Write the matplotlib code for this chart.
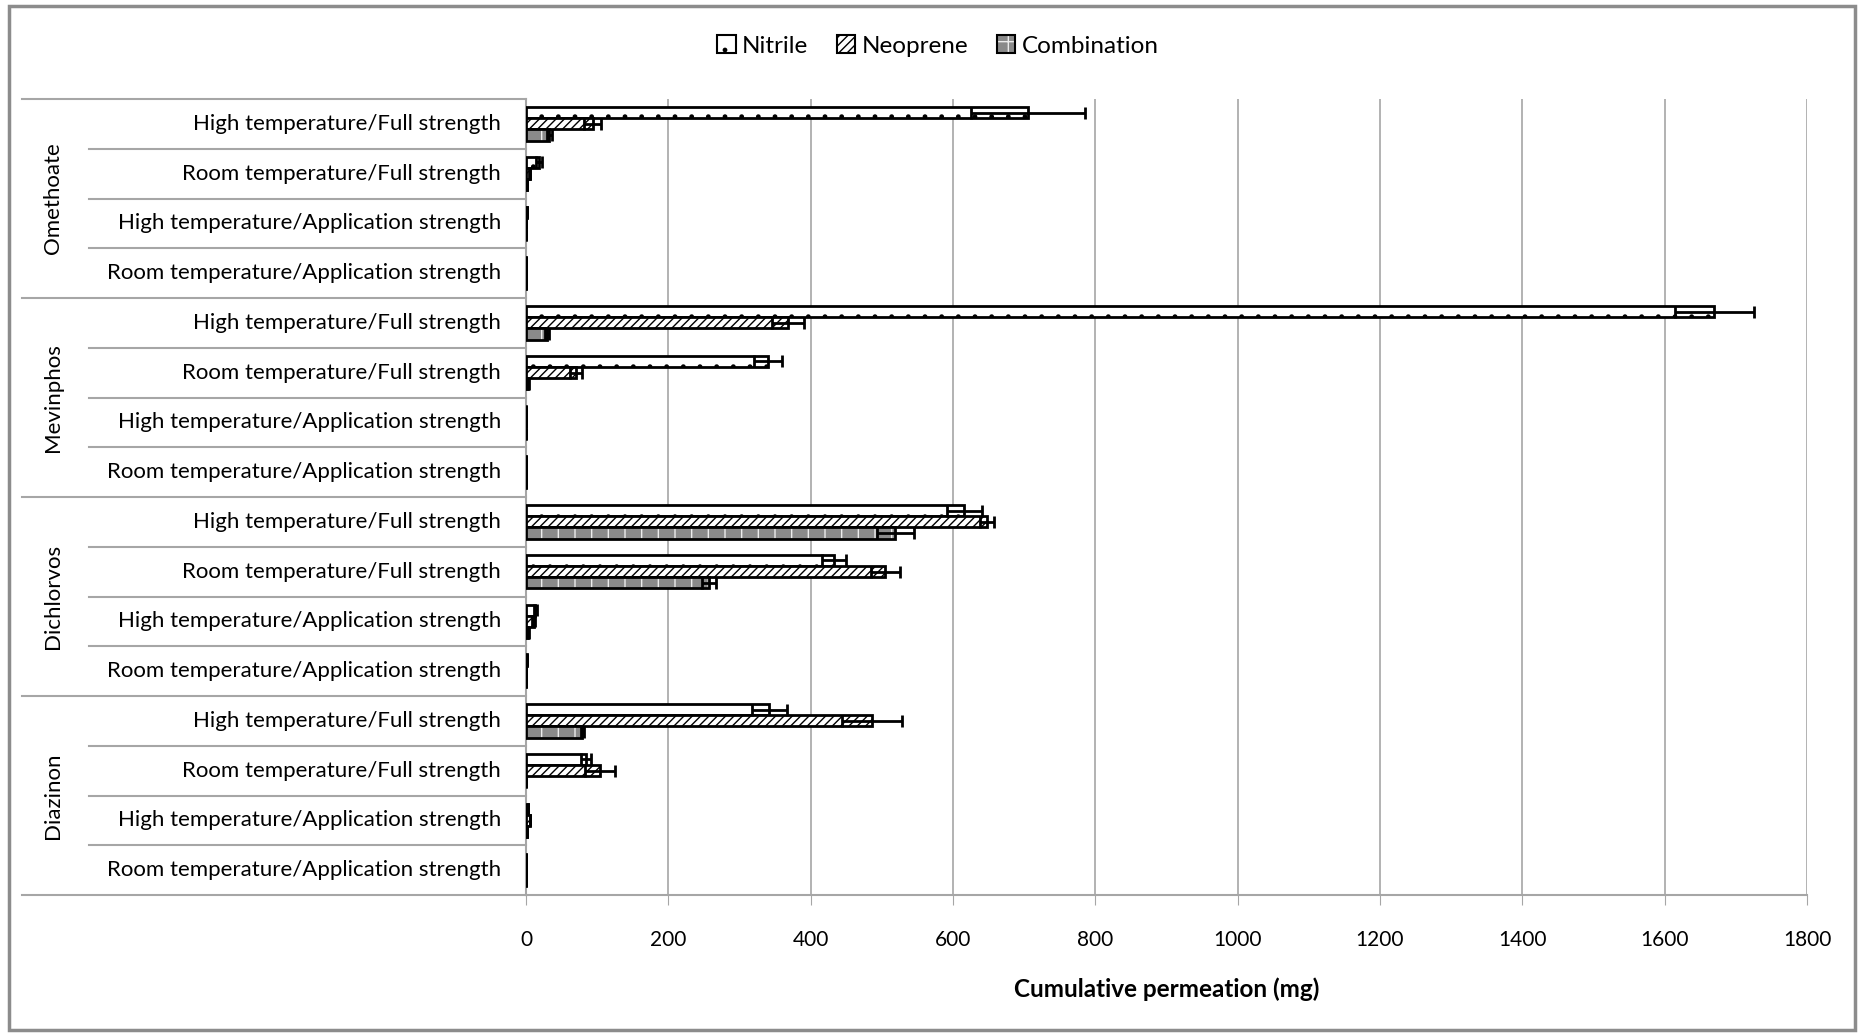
import matplotlib
matplotlib.use("Agg")
import matplotlib.pyplot as plt
import matplotlib.patches as mpatches
from matplotlib.legend_handler import HandlerTuple
from matplotlib.transforms import blended_transform_factory
import numpy as np

plt.rcParams['font.family'] = ['Lato', 'DejaVu Sans']
plt.rcParams['hatch.linewidth'] = 1.0

# ---- data -------------------------------------------------------------
pesticides = ["Omethoate", "Mevinphos", "Dichlorvos", "Diazinon"]
conditions = ["High temperature/Full strength",
              "Room temperature/Full strength",
              "High temperature/Application strength",
              "Room temperature/Application strength"]

# values listed pesticide by pesticide, conditions in the order above
nitrile = [705, 18, 0.8, 0.5,
           1670, 340, 0.6, 0.4,
           616, 433, 13, 0.8,
           342, 84, 3, 0.5]
nitrile_err = [80, 4, 0, 0,
               55, 20, 0, 0,
               25, 17, 2, 0,
               25, 7, 0, 0]
neoprene = [94, 5, 0.5, 0.4,
            368, 70, 0.5, 0.4,
            648, 505, 11, 0.5,
            486, 104, 5, 0.4]
neoprene_err = [12, 1, 0, 0,
                22, 8, 0, 0,
                10, 20, 2, 0,
                42, 21, 0, 0]
combination = [33, 1, 0.3, 0.3,
               30, 3, 0.3, 0.3,
               519, 257, 3, 0.3,
               79, 0.5, 2, 0.3]
combination_err = [4, 0, 0, 0,
                   3, 1, 0, 0,
                   26, 10, 1, 0,
                   2, 0, 0, 0]

xticks = [0, 200, 400, 600, 800, 1000, 1200, 1400, 1600, 1800]
xlabel = "Cumulative permeation (mg)"
series_names = ["Nitrile", "Neoprene", "Combination"]

# ---- figure -----------------------------------------------------------
W, H = 1863, 1035
fig = plt.figure(figsize=(W / 100, H / 100), dpi=100)
ax = fig.add_axes([526 / W, 1 - 895 / H, (1807 - 526) / W, (895 - 99) / H])

n = len(pesticides) * len(conditions)
y = np.arange(n)
bh = 0.225
grid_c = "#a6a6a6"
comb_face = "#8a8a8a"
comb_hatch = "#ececec"

err_kw = dict(fmt="none", ecolor="black", elinewidth=2, capsize=4,
              capthick=2, zorder=5)

# Nitrile: white with dots
ax.barh(y - bh, nitrile, height=bh, facecolor="white", edgecolor="black",
        hatch=".", linewidth=2, zorder=3)
ax.errorbar(nitrile, y - bh, xerr=nitrile_err, **err_kw)

# Neoprene: diagonal hatching
ax.barh(y, neoprene, height=bh, facecolor="white", edgecolor="black",
        hatch="////", linewidth=2, zorder=3)
ax.errorbar(neoprene, y, xerr=neoprene_err, **err_kw)

# Combination: grey with light pattern, black outline on top
ax.barh(y + bh, combination, height=bh, facecolor=comb_face,
        edgecolor=comb_hatch, hatch="+", linewidth=0, zorder=3)
ax.barh(y + bh, combination, height=bh, fill=False, edgecolor="black",
        linewidth=2, zorder=4)
ax.errorbar(combination, y + bh, xerr=combination_err, **err_kw)

ax.set_xlim(0, 1800)
ax.set_ylim(n - 0.5, -0.5)
ax.set_xticks(xticks)
ax.set_xticklabels([str(t) for t in xticks], fontsize=15)
ax.tick_params(axis="x", length=7, color=grid_c, pad=18)
ax.set_yticks([])
ax.xaxis.grid(True, color=grid_c, linewidth=1.2, zorder=0)
ax.set_axisbelow(True)
for side in ("top", "right"):
    ax.spines[side].set_visible(False)
for side in ("left", "bottom"):
    ax.spines[side].set_color(grid_c)
    ax.spines[side].set_linewidth(1.5)
ax.set_xlabel(xlabel, fontsize=17.5, fontweight="bold", labelpad=20)

# ---- hierarchical category axis --------------------------------------
tr = blended_transform_factory(ax.transAxes, ax.transData)
x_sub = (89 - 526) / (1807 - 526)
x_grp = (22 - 526) / (1807 - 526)
for b in range(n + 1):
    x0 = x_grp if b % len(conditions) == 0 else x_sub
    ax.plot([x0, 0], [b - 0.5, b - 0.5], transform=tr, color=grid_c,
            linewidth=1.5, clip_on=False, zorder=1)

for i in range(n):
    ax.text(-0.0195, i, conditions[i % len(conditions)], transform=tr,
            ha="right", va="center", fontsize=16)

x_glabel = (53 - 526) / (1807 - 526)
for g, name in enumerate(pesticides):
    yc = g * len(conditions) + (len(conditions) - 1) / 2
    ax.text(x_glabel, yc, name, transform=tr, rotation=90,
            ha="center", va="center", fontsize=16)

# ---- legend -----------------------------------------------------------
h_nit = mpatches.Patch(facecolor="white", edgecolor="black", hatch=".",
                       linewidth=1.5)
h_neo = mpatches.Patch(facecolor="white", edgecolor="black", hatch="////",
                       linewidth=1.5)
h_com = (mpatches.Patch(facecolor=comb_face, edgecolor=comb_hatch, hatch="+",
                        linewidth=0),
         mpatches.Patch(fill=False, edgecolor="black", linewidth=1.5))
fig.legend([h_nit, h_neo, h_com], series_names,
           handler_map={tuple: HandlerTuple(ndivide=1)},
           loc="center", bbox_to_anchor=(938 / W, 1 - 46 / H), ncol=3,
           frameon=False, fontsize=17.5, handlelength=0.75, handleheight=0.75,
           handletextpad=0.25, columnspacing=1.2)

# chart border
fig.patches.append(mpatches.Rectangle((9 / W, 1 - 1030 / H),
                                      (1855 - 9) / W, (1030 - 6) / H,
                                      transform=fig.transFigure, fill=False,
                                      edgecolor="#8c8c8c", linewidth=2.5))

fig.savefig("out.png", dpi=100, facecolor="white")
